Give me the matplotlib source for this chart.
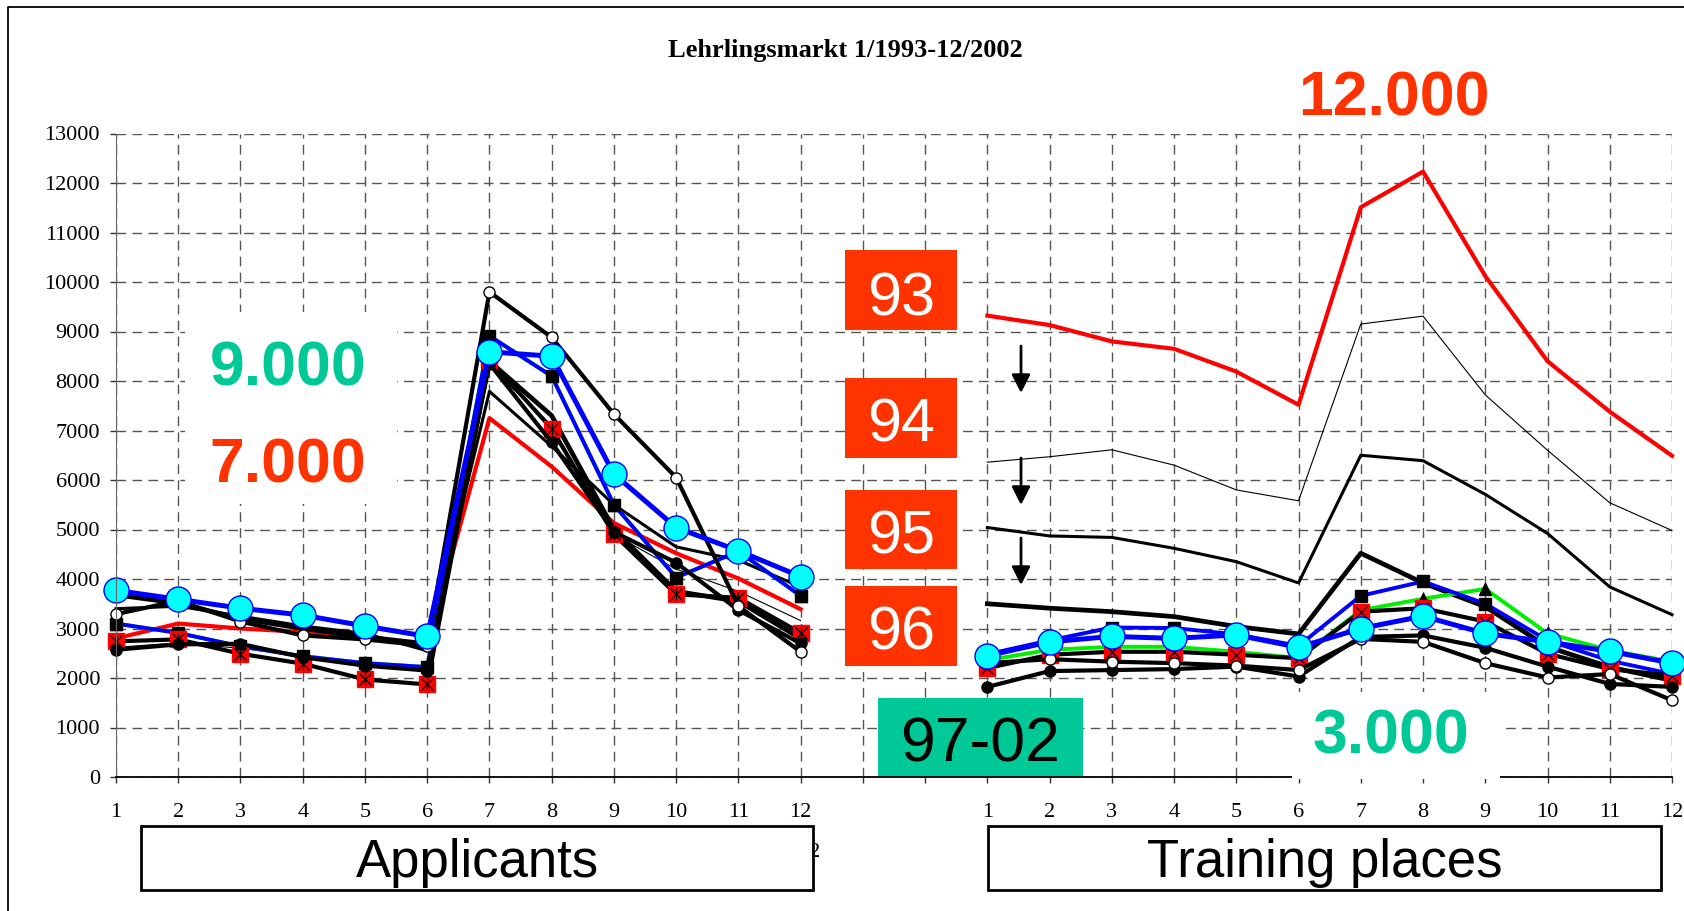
import matplotlib.pyplot as plt
import numpy as np
from matplotlib.patches import Rectangle, FancyArrowPatch
from matplotlib.lines import Line2D

plt.rcParams['font.family'] = ['Liberation Serif', 'DejaVu Serif']

# Monate 1..12, Bewerber links, Lehrstellen rechts (um 14 verschoben)
months = np.arange(1, 13)
app_x = months
tp_x = months + 14
tick_pos = np.arange(1, 27)
tick_labels = [str(m) for m in months] + ['', ''] + [str(m) for m in months]

# Bewerber (Applicants) 1993-2002
app_1993 = [2800, 3100, 3000, 2930, 2850, 2650, 7250, 6270, 5130, 4520, 4010, 3390]
app_1994 = [2620, 2710, 2600, 2450, 2280, 2180, 8300, 7100, 4900, 4200, 3750, 3160]
app_1995 = [3400, 3450, 3250, 3050, 2900, 2550, 7790, 6680, 5500, 4650, 4380, 3840]
app_1996 = [3680, 3510, 3200, 3000, 2830, 2690, 8400, 7300, 5000, 3750, 3550, 2800]
app_1997 = [3100, 2910, 2640, 2440, 2300, 2220, 8910, 8100, 5500, 4030, 4560, 3660]
app_1998 = [3100, 2910, 2640, 2440, 2300, 2220, 8910, 8100, 5500, 4030, 4560, 3660]
app_1999 = [2740, 2780, 2490, 2290, 1970, 1870, 8420, 7040, 4900, 3690, 3620, 2910]
app_2000 = [2570, 2680, 2690, 2420, 2250, 2150, 8350, 6760, 4950, 4330, 3370, 2700]
app_2001 = [3290, 3560, 3140, 2860, 2780, 2650, 9800, 8880, 7330, 6050, 3450, 2530]
app_2002 = [3770, 3590, 3410, 3270, 3050, 2840, 8590, 8500, 6120, 5040, 4570, 4050]

# Lehrstellen (Training places) 1993-2002
tp_1993 = [9320, 9130, 8800, 8650, 8190, 7520, 11510, 12230, 10120, 8400, 7380, 6490]
tp_1994 = [6360, 6470, 6610, 6300, 5800, 5580, 9150, 9310, 7720, 6600, 5540, 4980]
tp_1995 = [5040, 4870, 4840, 4620, 4350, 3920, 6500, 6390, 5710, 4920, 3840, 3280]
tp_1996 = [3500, 3410, 3340, 3240, 3040, 2890, 4520, 3920, 3440, 2630, 2220, 1950]
tp_1997 = [2360, 2570, 2630, 2630, 2530, 2400, 3370, 3600, 3800, 2900, 2560, 2330]
tp_1998 = [2480, 2760, 3020, 3010, 2880, 2650, 3660, 3950, 3500, 2760, 2350, 2080]
tp_1999 = [2200, 2470, 2530, 2530, 2470, 2400, 3340, 3410, 3140, 2490, 2180, 2050]
tp_2000 = [1820, 2140, 2160, 2180, 2230, 2030, 2830, 2860, 2610, 2230, 1880, 1820]
tp_2001 = [2300, 2380, 2330, 2300, 2250, 2160, 2790, 2730, 2300, 2010, 2080, 1550]
tp_2002 = [2450, 2730, 2840, 2800, 2870, 2620, 3000, 3250, 2900, 2730, 2540, 2300]

applicants = [app_1993, app_1994, app_1995, app_1996, app_1997,
              app_1998, app_1999, app_2000, app_2001, app_2002]
training = [tp_1993, tp_1994, tp_1995, tp_1996, tp_1997,
            tp_1998, tp_1999, tp_2000, tp_2001, tp_2002]

# Linienstile je Jahr
styles = [
    dict(color='#ff0000', lw=3.0),
    dict(color='black', lw=0.8),
    dict(color='black', lw=2.2),
    dict(color='black', lw=3.4),
    dict(color='#00ee00', lw=2.8, marker='^', ms=9, mfc='black', mec='black'),
    dict(color='#0000ff', lw=2.8, marker='s', ms=9, mfc='black', mec='black'),
    dict(color='black', lw=3.0, marker='s', ms=11, mfc='#ff0000', mec='#ff0000'),
    dict(color='black', lw=3.0, marker='o', ms=8, mfc='black', mec='black'),
    dict(color='black', lw=3.0, marker='o', ms=8, mfc='white', mec='black', mew=1),
    dict(color='#0000ff', lw=3.6, marker='o', ms=18, mfc='#00ffff', mec='#0000ff', mew=1),
]

W, H = 1684, 911


def fx(px):
    return px / W


def fy(py):
    return 1 - py / H


fig = plt.figure(figsize=(W / 100, H / 100), dpi=100)
ax = fig.add_axes([fx(116), fy(777), (1672 - 116) / W, (777 - 133.5) / H])

for i in range(10):
    ax.plot(app_x, applicants[i], clip_on=False, **styles[i])
    ax.plot(tp_x, training[i], clip_on=False, **styles[i])
    if i == 6:
        # Sternchen auf den roten Quadraten
        ax.plot(app_x, applicants[i], ls='none', marker='x', ms=8, mec='black', mew=0.9, clip_on=False)
        ax.plot(app_x, applicants[i], ls='none', marker='|', ms=8, mec='black', mew=0.9, clip_on=False)
        ax.plot(tp_x, training[i], ls='none', marker='x', ms=9, mec='black', mew=0.9, clip_on=False)

ax.set_xlim(1, 26)
ax.set_ylim(0, 13000)
ax.set_xticks(tick_pos)
ax.set_xticklabels(tick_labels)
ax.set_yticks(np.arange(0, 13001, 1000))
ax.grid(True, linestyle=(0, (7, 4.5)), color='#555555', lw=1.0)
ax.set_axisbelow(True)
for s in ['top', 'right']:
    ax.spines[s].set_visible(False)
ax.spines['left'].set_color('#666666')
ax.spines['left'].set_linewidth(0.8)
ax.spines['bottom'].set_linewidth(1.3)
ax.tick_params(axis='y', direction='out', length=4.5, width=1, color='#333333', labelsize=16, pad=7)
ax.tick_params(axis='x', direction='out', length=4.5, width=1, color='#333333', labelsize=16, pad=14.5)

fig.text(fx(845), fy(50), 'Lehrlingsmarkt 1/1993-12/2002', ha='center', va='center',
         fontsize=19, fontweight='bold')

green = '#00c896'
orange = '#ff3300'
sans = ['Liberation Sans', 'DejaVu Sans']

# weisse Flaeche hinter 9.000 / 7.000
fig.add_artist(Rectangle((fx(185), fy(504)), (397 - 185) / W, (504 - 312) / H,
                         transform=fig.transFigure, fc='white', ec='none', zorder=1))
fig.text(fx(288), fy(386), '9.000', color=green, fontsize=45, fontweight='bold',
         family=sans, ha='center', va='baseline', zorder=3)
fig.text(fx(288), fy(482), '7.000', color=orange, fontsize=45, fontweight='bold',
         family=sans, ha='center', va='baseline', zorder=3)
fig.text(fx(1394), fy(115), '12.000', color=orange, fontsize=45, fontweight='bold',
         family=sans, ha='center', va='baseline', zorder=3)
fig.add_artist(Rectangle((fx(1292), fy(779)), (1500 - 1292) / W, (779 - 692) / H,
                         transform=fig.transFigure, fc='white', ec='none', zorder=1))
fig.text(fx(1391), fy(753), '3.000', color=green, fontsize=45, fontweight='bold',
         family=sans, ha='center', va='baseline', zorder=3)

# Jahreskaestchen 93-96
year_boxes = [('93', 250, 330, 315), ('94', 378, 458, 442), ('95', 490, 569, 553), ('96', 586, 666, 650)]
for label, top, bottom, base in year_boxes:
    fig.add_artist(Rectangle((fx(845), fy(bottom)), (957 - 845) / W, (bottom - top) / H,
                             transform=fig.transFigure, fc=orange, ec='none', zorder=1))
    fig.text(fx(901), fy(base), label, color='white', fontsize=44, family=sans,
             ha='center', va='baseline', zorder=3)

fig.add_artist(Rectangle((fx(878), fy(776)), (1083 - 878) / W, (776 - 698) / H,
                         transform=fig.transFigure, fc=green, ec='none', zorder=1))
fig.text(fx(980.5), fy(762), '97-02', color='black', fontsize=45, family=sans,
         ha='center', va='baseline', zorder=3)

# Pfeile zwischen den Jahren
for top, tip in [(346, 393), (458, 505), (538, 585)]:
    fig.add_artist(FancyArrowPatch((fx(1021), fy(top)), (fx(1021), fy(tip)),
                                   transform=fig.transFigure,
                                   arrowstyle='-|>,head_length=0.55,head_width=0.28',
                                   mutation_scale=20, lw=2, color='black',
                                   shrinkA=0, shrinkB=0, zorder=3))

# Beschriftungskaesten unten
fig.text(fx(820), fy(857), '12', ha='right', va='baseline', fontsize=16, zorder=1)
for text, left, right, cx in [('Applicants', 141, 813, 477), ('Training places', 988, 1661, 1325)]:
    fig.add_artist(Rectangle((fx(left), fy(890)), (right - left) / W, (890 - 826) / H,
                             transform=fig.transFigure, fc='white', ec='black', lw=2, zorder=2))
    fig.text(fx(cx), fy(877), text, fontsize=38, family=sans, ha='center', va='baseline', zorder=3)

# Rahmen links und oben
fig.add_artist(Line2D([fx(8), fx(8), 1.0], [0.0, fy(7), fy(7)], transform=fig.transFigure,
                      color='black', lw=1.3))

fig.savefig('out.png', dpi=100)
